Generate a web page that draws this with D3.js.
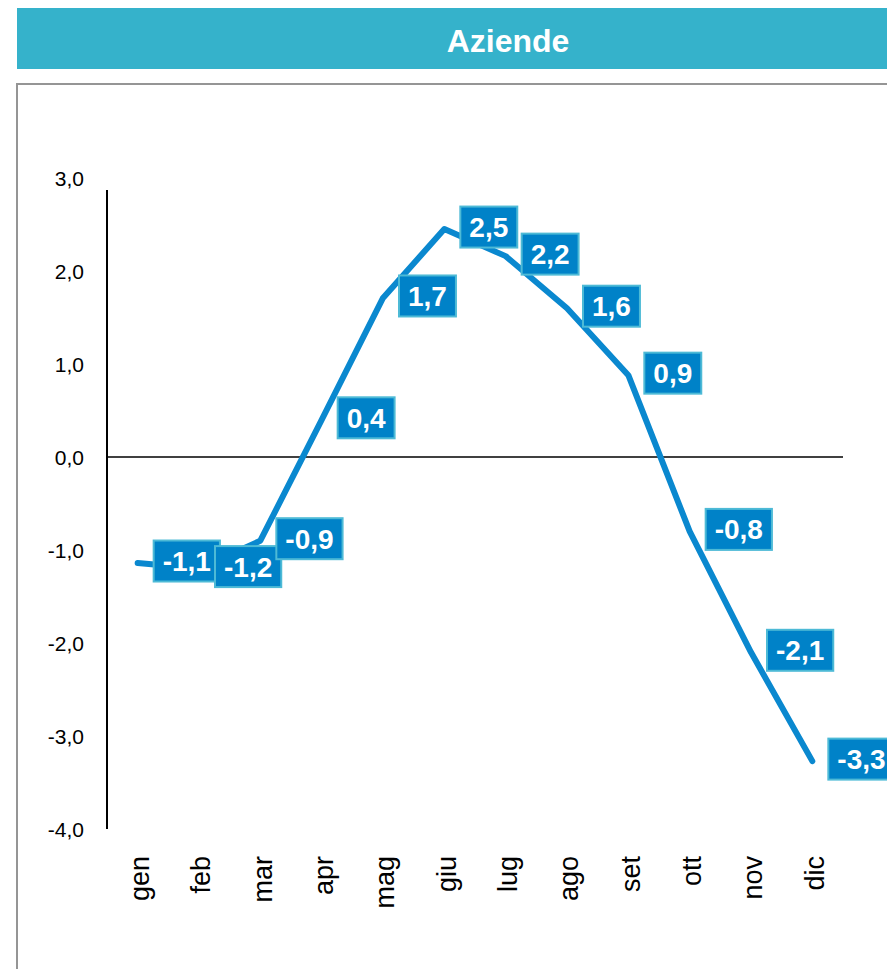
<!DOCTYPE html>
<html>
<head>
<meta charset="utf-8">
<script src="https://cdn.jsdelivr.net/npm/d3@7"></script>
<style>
  body { margin: 0; background: #fff; }
  svg { display: block; font-family: "Liberation Sans", Arial, sans-serif; }
</style>
</head>
<body>
<div id="chart"></div>
<script>
// data
var months = ["gen", "feb", "mar", "apr", "mag", "giu", "lug", "ago", "set", "ott", "nov", "dic"];
var values = [-1.14, -1.2, -0.9, 0.4, 1.71, 2.451, 2.16, 1.6, 0.88, -0.8, -2.1, -3.27];
var yTicks = [3, 2, 1, 0, -1, -2, -3, -4];
var title = "Aziende";

var svgWidth = 887;
var svgHeight = 969;

var svg = d3.select("#chart")
  .append("svg")
  .attr("width", svgWidth)
  .attr("height", svgHeight);

// title bar
svg.append("rect")
  .attr("x", 17).attr("y", 8)
  .attr("width", 990).attr("height", 61)
  .attr("fill", "#35b2cb");

svg.append("text")
  .attr("x", 508).attr("y", 52)
  .attr("text-anchor", "middle")
  .attr("font-size", "32px")
  .attr("font-weight", "bold")
  .attr("fill", "#fff")
  .text(title);

// chart frame
svg.append("rect")
  .attr("x", 17).attr("y", 84)
  .attr("width", 990).attr("height", 1000)
  .attr("fill", "none")
  .attr("stroke", "#959595")
  .attr("stroke-width", 2);

// scales
var x = d3.scaleBand()
  .domain(months)
  .range([107, 843]);

var y = d3.scaleLinear()
  .domain([-4, 3])
  .range([829, 178]);

// italian decimal comma, plain hyphen for minus
var fmt = function(v) { return d3.format(".1f")(v).replace(".", ",").replace("\u2212", "-"); };

// y axis labels
var leftAxis = d3.axisLeft(y)
  .tickValues(yTicks)
  .tickSize(0)
  .tickPadding(23)
  .tickFormat(fmt);

var yAxisG = svg.append("g")
  .attr("transform", "translate(107,0)")
  .call(leftAxis);
yAxisG.select(".domain").remove();
yAxisG.selectAll("text")
  .attr("font-size", "21px")
  .attr("font-family", "'Liberation Sans', Arial, sans-serif")
  .attr("fill", "#000")
  .attr("dy", "0.36em");

// y axis line
svg.append("line")
  .attr("x1", 107).attr("x2", 107)
  .attr("y1", 190).attr("y2", y(-4))
  .attr("stroke", "#000")
  .attr("stroke-width", 2);

// zero line
svg.append("line")
  .attr("x1", 107).attr("x2", 843)
  .attr("y1", y(0)).attr("y2", y(0))
  .attr("stroke", "#000")
  .attr("stroke-width", 1.5);

// month labels
svg.selectAll(".month")
  .data(months)
  .enter()
  .append("text")
  .attr("class", "month")
  .attr("transform", d => `translate(${x(d) + x.bandwidth() / 2}, 856) rotate(-90)`)
  .attr("text-anchor", "end")
  .attr("dy", "0.42em")
  .attr("font-size", "27px")
  .attr("fill", "#000")
  .text(d => d);

// line
var line = d3.line()
  .x((d, i) => x(months[i]) + x.bandwidth() / 2)
  .y(d => y(d));

svg.append("path")
  .datum(values)
  .attr("d", line)
  .attr("fill", "none")
  .attr("stroke", "#0a88cf")
  .attr("stroke-width", 6)
  .attr("stroke-linejoin", "round")
  .attr("stroke-linecap", "round");

// data labels
var labels = svg.selectAll(".lbl")
  .data(values)
  .enter()
  .append("g")
  .attr("class", "lbl")
  .attr("transform", (d, i) => `translate(${x(months[i]) + x.bandwidth() / 2 + 16}, ${y(d) - 2})`);

labels.append("rect")
  .attr("fill", "#0082c8")
  .attr("stroke", "#4dbad6")
  .attr("stroke-width", 2);

var texts = labels.append("text")
  .attr("font-size", "28px")
  .attr("font-weight", "bold")
  .attr("fill", "#fff")
  .attr("text-anchor", "middle")
  .attr("dy", "0.36em")
  .text(d => fmt(d));

texts.each(function() {
  var w = this.getComputedTextLength() + 18;
  d3.select(this).attr("x", w / 2);
  d3.select(this.parentNode).select("rect")
    .attr("x", 0).attr("y", -20.5)
    .attr("width", w).attr("height", 41);
});
</script>
</body>
</html>
